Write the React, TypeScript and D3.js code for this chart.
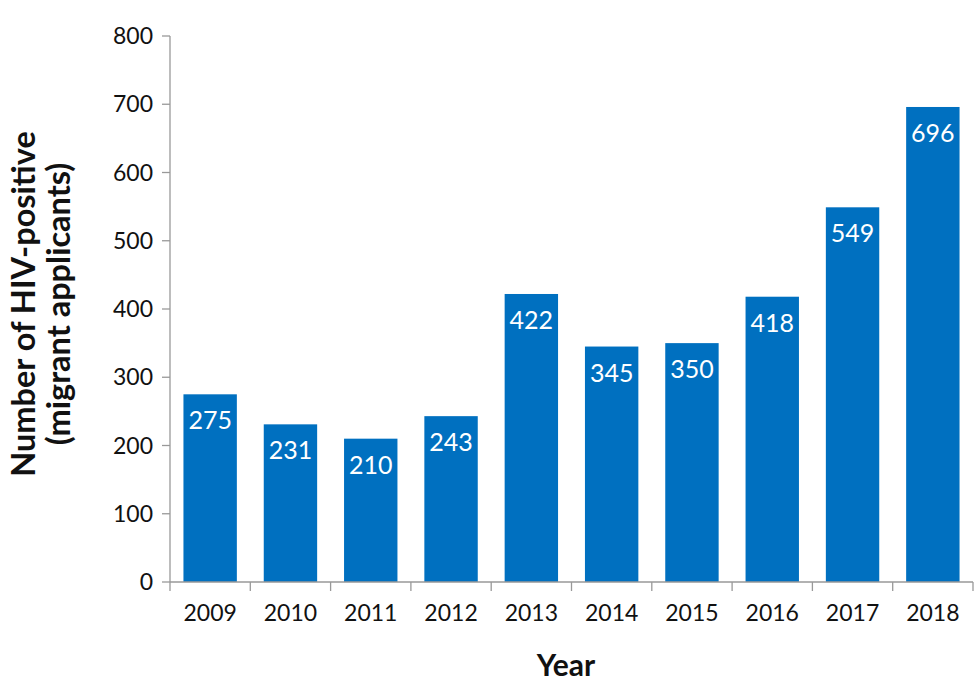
import React from "react";
import * as d3 from "d3";

const years = ["2009", "2010", "2011", "2012", "2013", "2014", "2015", "2016", "2017", "2018"];
const values = [275, 231, 210, 243, 422, 345, 350, 418, 549, 696];
const yTicks = [0, 100, 200, 300, 400, 500, 600, 700, 800];

export default function App() {
  const W = 980, H = 698;
  const left = 170, right = 973, top = 36, bottom = 582;
  const x = d3.scaleBand().domain(years).range([left, right]).paddingInner(0.335).paddingOuter(0.1675);
  const y = d3.scaleLinear().domain([0, 800]).range([bottom, top]);
  const font = "Lato, 'Open Sans', sans-serif";
  const axisColor = "#999";
  const step = x.step();
  return (
    <svg width={W} height={H} style={{ position: "absolute", left: 0, top: 0 }} fontFamily={font}>
      <rect width={W} height={H} fill="#fff" />
      {years.map((yr, i) => (
        <g key={yr}>
          <rect x={x(yr)} y={y(values[i])} width={x.bandwidth()} height={bottom - y(values[i])} fill="#0070C0" />
          <text x={(x(yr) as number) + x.bandwidth() / 2} y={y(values[i]) + 35} textAnchor="middle" fill="#fff" fontSize={25}>
            {values[i]}
          </text>
          <text x={(x(yr) as number) + x.bandwidth() / 2} y={621} textAnchor="middle" fill="#111" fontSize={23}>
            {yr}
          </text>
        </g>
      ))}
      <line x1={left} x2={left} y1={top} y2={bottom} stroke={axisColor} strokeWidth={1.3} />
      <line x1={left} x2={right} y1={bottom} y2={bottom} stroke={axisColor} strokeWidth={1.3} />
      {yTicks.map((t) => (
        <g key={t}>
          <line x1={left - 8} x2={left} y1={y(t)} y2={y(t)} stroke={axisColor} strokeWidth={1.3} />
          <text x={153} y={y(t) + 8} textAnchor="end" fill="#111" fontSize={23}>
            {t}
          </text>
        </g>
      ))}
      {d3.range(years.length + 1).map((i) => (
        <line key={i} x1={left + i * step} x2={left + i * step} y1={bottom} y2={bottom + 9} stroke={axisColor} strokeWidth={1.3} />
      ))}
      <text transform="translate(35,304) rotate(-90)" textAnchor="middle" fontWeight="bold" fontSize={32.5} fill="#111">
        Number of HIV-positive
      </text>
      <text transform="translate(70,304) rotate(-90)" textAnchor="middle" fontWeight="bold" fontSize={32.5} fill="#111">
        (migrant applicants)
      </text>
      <text x={566} y={676} textAnchor="middle" fontWeight="bold" fontSize={30} fill="#111">
        Year
      </text>
    </svg>
  );
}
